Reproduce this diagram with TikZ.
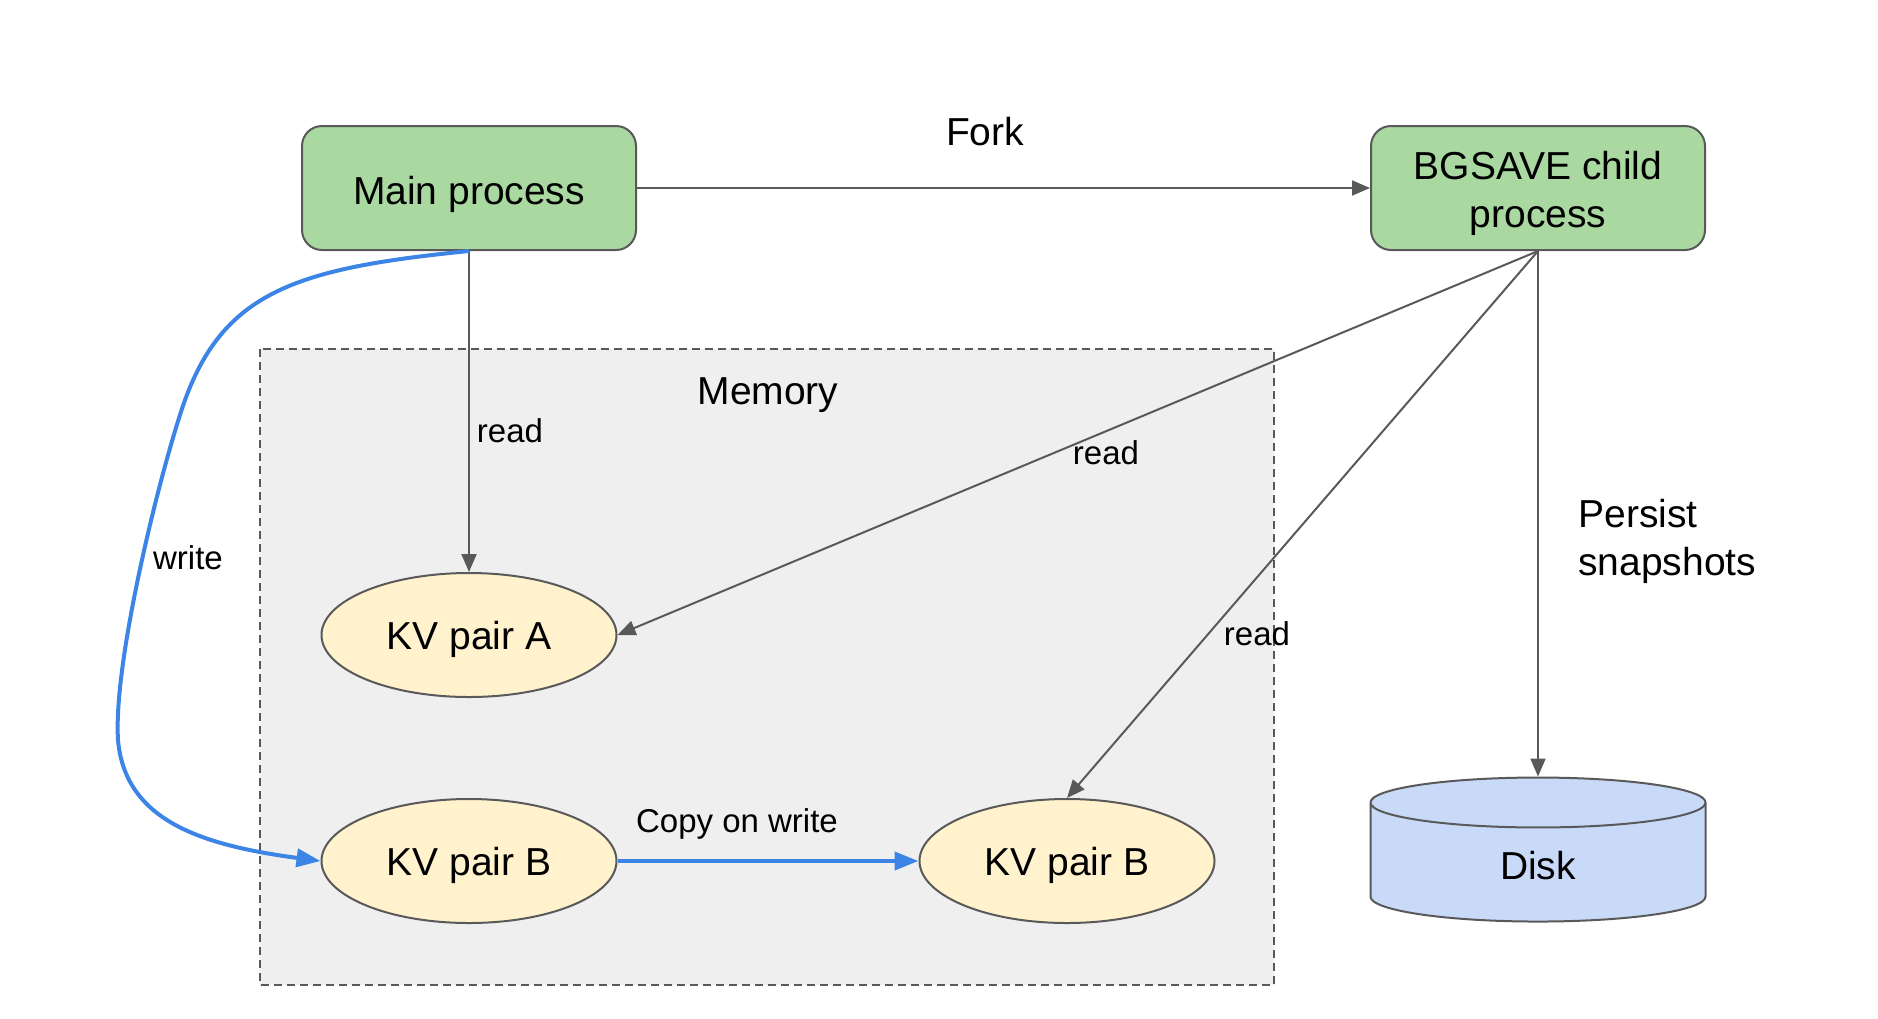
\documentclass[tikz,border=0pt]{standalone}
\usepackage{fontspec}
\setmainfont{Liberation Sans}
\usetikzlibrary{arrows.meta,shapes.geometric}

\begin{document}
\begin{tikzpicture}[x=0.5pt,y=-0.5pt,
    procBox/.style={draw=lineColor, line width=1pt, fill=processColor, rounded corners=10pt,
        minimum width=167pt, minimum height=62pt, align=center, text height=17pt, text depth=1pt,
        font=\fontsize{19.5}{24}\selectfont},
    kvPair/.style={ellipse, draw=lineColor, line width=1pt, fill=kvColor, inner sep=0pt,
        minimum width=147.5pt, minimum height=62pt, text height=16pt, text depth=1.5pt,
        font=\fontsize{19.5}{24}\selectfont},
    bigLabel/.style={align=left, inner sep=0pt, font=\fontsize{19.5}{24}\selectfont},
    smallLabel/.style={inner sep=0pt, font=\fontsize{16.5}{20}\selectfont},
    readArrow/.style={draw=lineColor, line width=1pt, -{Triangle[length=9pt,width=7.5pt]}},
    writeArrow/.style={draw=writeColor, line width=2pt, -{Triangle[length=12pt,width=9pt]}}]
    % Define colors
    \definecolor{processColor}{RGB}{169,216,160}
    \definecolor{kvColor}{RGB}{255,242,204}
    \definecolor{memoryColor}{RGB}{239,239,239}
    \definecolor{diskColor}{RGB}{201,218,248}
    \definecolor{lineColor}{RGB}{89,89,89}
    \definecolor{writeColor}{RGB}{60,133,230}
    \useasboundingbox (0,0) rectangle (1878,1018);
    % Memory area
    \draw[lineColor, fill=memoryColor, line width=1pt, dash pattern=on 4pt off 2.5pt]
        (260,349) rectangle (1274,985);
    \node[bigLabel] (memory) at (768,395) {Memory};
    % Processes
    \node[procBox] (main) at (469,188) {Main process};
    \node[procBox, text height=40pt] (child) at (1538,188) {BGSAVE child\\process};
    % Key-value pairs
    \node[kvPair] (kvA) at (469,635) {KV pair A};
    \node[kvPair] (kvB) at (469,861) {KV pair B};
    \node[kvPair] (kvBcopy) at (1067,861) {KV pair B};
    % Disk
    \node[cylinder, shape border rotate=90, aspect=0.56, draw=lineColor, line width=1pt,
        fill=diskColor, minimum width=167.5pt, minimum height=72pt,
        font=\fontsize{19.5}{24}\selectfont] (disk) at (1538,866) {Disk};
    % Connectors
    \draw[readArrow] (main) -- (child);
    \node[bigLabel] (fork) at (985,132) {Fork};
    \draw[readArrow] (main.south) -- (kvA.north);
    \node[smallLabel] (readA) at (510,431) {read};
    \draw[readArrow] (child.south) -- (kvA.east);
    \node[smallLabel] (readChildA) at (1106,453) {read};
    \draw[readArrow] (child.south) -- (kvBcopy.north);
    \node[smallLabel] (readChildB) at (1257,634) {read};
    \draw[readArrow] (child.south) -- (disk.north);
    \node[bigLabel, anchor=west] (persist) at (1578,541) {Persist\\snapshots};
    % Write path and copy on write
    \draw[writeArrow] (main.south) .. controls (300,268) and (225,290) .. (185,400)
        .. controls (162,465) and (113,660) .. (118,740)
        .. controls (125,820) and (200,845) .. (kvB.west);
    \node[smallLabel] (write) at (188,558) {write};
    \draw[writeArrow] (kvB) -- (kvBcopy);
    \node[smallLabel] (cow) at (737,824) {Copy on write};
\end{tikzpicture}
\end{document}
